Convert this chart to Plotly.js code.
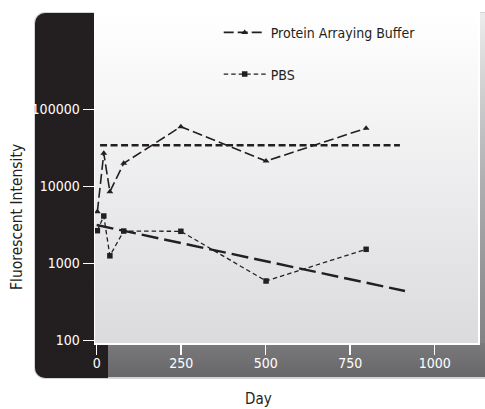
<!DOCTYPE html>
<html>
<head>
<meta charset="utf-8">
<script src="https://cdn.plot.ly/plotly-3.0.1.min.js"></script>
<style>
  html, body { margin:0; padding:0; background:#ffffff; }
  #wrap { position:relative; width:485px; height:409px; overflow:hidden; }
  .bg { position:absolute; }
  #chart { position:absolute; left:0; top:0; width:485px; height:409px; }
</style>
</head>
<body>
<div id="wrap">
  <div class="bg" style="left:34px;top:12px;width:451px;height:367px;background:#d4d4d6;border-radius:11px 0 0 11px;"></div>
  <div class="bg" style="left:35px;top:13px;width:73px;height:365px;background:#231f20;border-radius:10px 0 0 10px;"></div>
  <div class="bg" style="left:108px;top:343px;width:377px;height:34px;background:linear-gradient(to bottom,#7a7a7d,#67676a);"></div>
  <div class="bg" style="left:478px;top:13px;width:7px;height:330px;background:linear-gradient(to bottom,#ececec,#b0b0b2 50%,#828285);"></div>
  <div class="bg" style="left:95px;top:13px;width:383px;height:330px;background:linear-gradient(to bottom,#ffffff,#dbdbde);"></div>
  <div id="chart"></div>
</div>
<script>
// ---- data ----
var days = [2, 21, 39, 80, 249, 501, 797];
var proteinBuffer = [4710, 27000, 8560, 20000, 59800, 21400, 57000];
var pbs = [2670, 4140, 1260, 2640, 2620, 593, 1530];
var refDays = [10, 897];
var refLevel = [34300, 34300];
var trendDays = [0, 912];
var trendLevel = [3160, 440];
var seriesNames = ["Protein Arraying Buffer", "PBS"];
var xTickVals = [0, 250, 500, 750, 1000];
var xTickText = ["0", "250", "500", "750", "1000"];
var yTickVals = [100, 1000, 10000, 100000];
var yTickText = ["100", "1000", "10000", "100000"];

var FONT = "'DejaVu Sans Condensed', 'Liberation Sans Narrow', 'Arial Narrow', sans-serif";
var INK = "#231f20";

var traces = [
  {
    x: trendDays, y: trendLevel, mode: "lines", showlegend: false, hoverinfo: "skip",
    line: { color: INK, width: 2.4, dash: "17px,6px" }
  },
  {
    x: refDays, y: refLevel, mode: "lines", showlegend: false, hoverinfo: "skip",
    line: { color: INK, width: 2.4, dash: "7px,3.5px" }
  },
  {
    x: days, y: proteinBuffer, name: seriesNames[0], legendgroup: "a", mode: "lines+markers",
    line: { color: INK, width: 1.6, dash: "10px,4px" },
    marker: { symbol: "triangle-up", size: 6, color: INK }
  },
  {
    x: days, y: pbs, name: seriesNames[1], legendgroup: "b", mode: "lines+markers",
    line: { color: INK, width: 1.3, dash: "4.5px,3px" },
    marker: { symbol: "square", size: 5.5, color: INK }
  }
];

var layout = {
  width: 485, height: 409,
  margin: { l: 95, r: 7, t: 13, b: 66, pad: 0 },
  paper_bgcolor: "rgba(0,0,0,0)",
  plot_bgcolor: "rgba(0,0,0,0)",
  font: { family: FONT, size: 14, color: INK },
  showlegend: true,
  legend: {
    x: 0.323, y: 0.9885, xanchor: "left", yanchor: "top",
    bgcolor: "rgba(0,0,0,0)", borderwidth: 0,
    traceorder: "grouped", tracegroupgap: 20.5, itemwidth: 42,
    font: { family: FONT, size: 14, color: INK }
  },
  xaxis: {
    type: "linear", range: [-5, 1128],
    tickmode: "array", tickvals: xTickVals, ticktext: xTickText,
    ticks: "outside", ticklen: 10, tickwidth: 1.5, tickcolor: "#ffffff",
    ticklabelstandoff: -3,
    tickfont: { family: FONT, size: 14, color: "#ffffff" },
    showgrid: false, zeroline: false,
    showline: true, linecolor: "#ffffff", linewidth: 1.5, mirror: true
  },
  yaxis: {
    type: "log", range: [1.968, 6.253],
    tickmode: "array", tickvals: yTickVals, ticktext: yTickText,
    ticks: "outside", ticklen: 11, tickwidth: 1.5, tickcolor: "#ffffff",
    tickfont: { family: FONT, size: 14, color: "#ffffff" },
    showgrid: false, zeroline: false,
    showline: true, linecolor: "#ffffff", linewidth: 1.5, mirror: true
  },
  annotations: [
    {
      text: "Fluorescent Intensity", xref: "paper", yref: "paper",
      x: (17.5 - 95) / 383, y: (343 - 217.5) / 330, xanchor: "center", yanchor: "middle",
      textangle: -90, showarrow: false, font: { family: FONT, size: 15.5, color: INK }
    },
    {
      text: "Day", xref: "paper", yref: "paper",
      x: (258 - 95) / 383, y: (343 - 399) / 330, xanchor: "center", yanchor: "middle",
      showarrow: false, font: { family: FONT, size: 15, color: INK }
    }
  ]
};

Plotly.newPlot("chart", traces, layout, { staticPlot: true, displayModeBar: false });
</script>
</body>
</html>
